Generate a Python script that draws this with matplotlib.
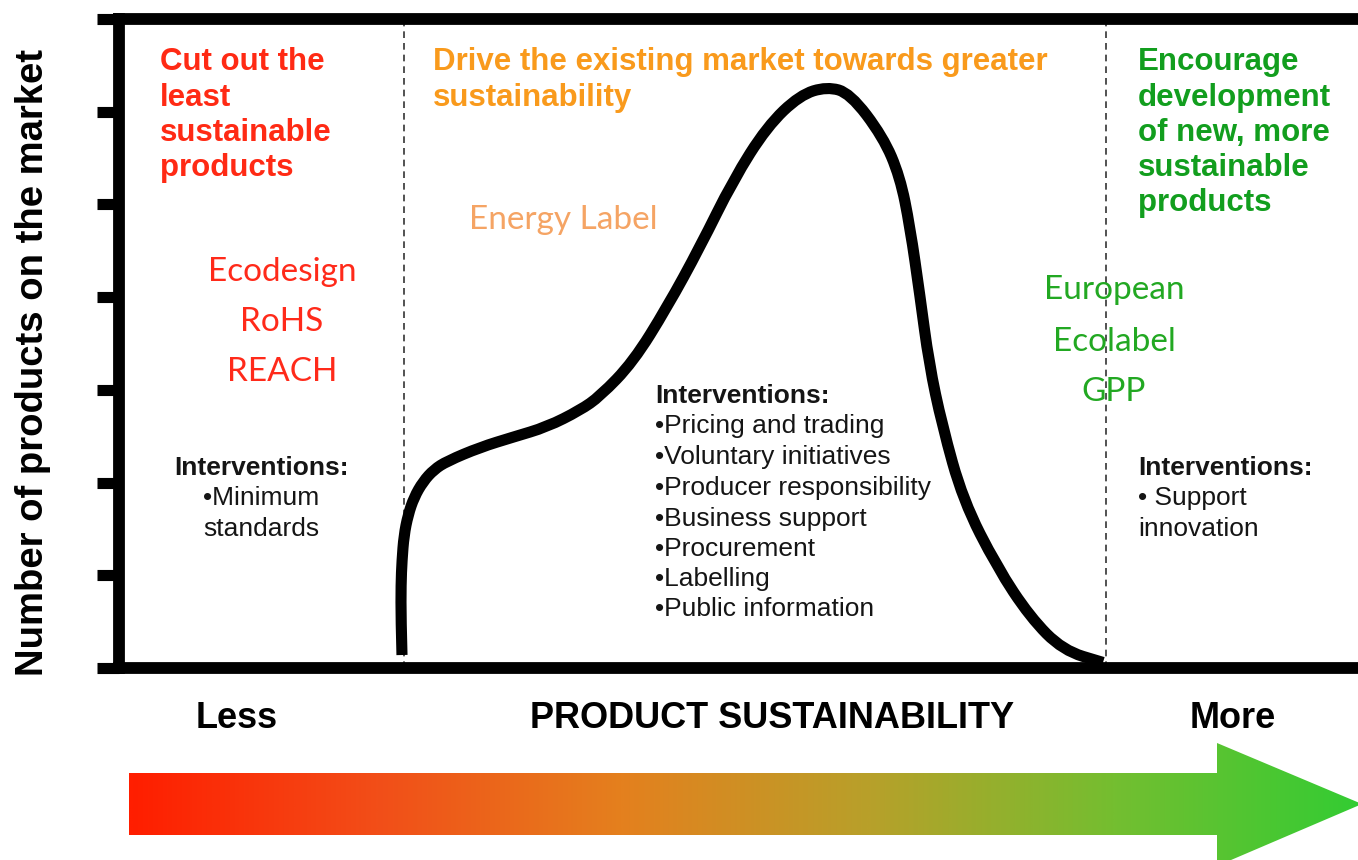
import numpy as np
import matplotlib
matplotlib.use('Agg')
import matplotlib.pyplot as plt
from matplotlib.colors import LinearSegmentedColormap
from matplotlib.patches import Polygon, PathPatch
from matplotlib.path import Path

# market curve: product sustainability (0-100) vs number of products (0-7)
sust = [22.84, 22.76, 22.76, 22.84, 23.00, 23.33, 23.81, 24.54, 25.42, 26.47,
        29.14, 31.80, 34.54, 37.21, 38.82, 41.49, 44.23, 46.89, 49.56, 52.30,
        54.96, 57.14, 59.00, 61.66, 63.03, 63.84, 64.65, 65.37, 66.43, 68.12,
        70.86, 73.53, 76.19, 79.42]
n_products = [0.14, 0.52, 0.90, 1.16, 1.43, 1.65, 1.84, 2.01, 2.14, 2.23,
              2.38, 2.49, 2.60, 2.78, 2.93, 3.30, 3.89, 4.54, 5.26, 5.84,
              6.18, 6.27, 6.20, 5.73, 5.30, 4.76, 4.01, 3.29, 2.62, 1.81,
              1.09, 0.55, 0.19, 0.06]
zone_edges = [23.0, 79.66]
y_ticks = [0, 1, 2, 3, 4, 5, 6, 7]

head_left = ['Cut out the', 'least', 'sustainable', 'products']
head_mid = ['Drive the existing market towards greater', 'sustainability']
head_right = ['Encourage', 'development', 'of new, more', 'sustainable', 'products']
tools_left = ['Ecodesign', 'RoHS', 'REACH']
tools_mid = ['Energy Label']
tools_right = ['European', 'Ecolabel', 'GPP']
interv_left = ['Interventions:', '\u2022Minimum', 'standards']
interv_mid = ['Interventions:', '\u2022Pricing and trading', '\u2022Voluntary initiatives',
              '\u2022Producer responsibility', '\u2022Business support',
              '\u2022Procurement', '\u2022Labelling', '\u2022Public information']
interv_right = ['Interventions:', '\u2022 Support', 'innovation']

W, H = 1358, 860
fig = plt.figure(figsize=(W / 100, H / 100), dpi=100)

# main axes (box)
ax = fig.add_axes([119 / W, (H - 668) / H, (W - 119) / W, (668 - 19) / H])
ax.set_xlim(0, 100)
ax.set_ylim(0, 7)

# smooth curve: quadratic bezier through midpoints of the read points
pts = np.column_stack([sust, n_products])
verts = [pts[0]]
codes = [Path.MOVETO]
for i in range(1, len(pts) - 1):
    verts += [pts[i], (pts[i] + pts[i + 1]) / 2]
    codes += [Path.CURVE3, Path.CURVE3]
verts.append(pts[-1])
codes.append(Path.LINETO)
ax.add_patch(PathPatch(Path(verts, codes), fill=False, edgecolor='black', lw=8,
                       capstyle='butt', joinstyle='round', zorder=3))

for xe in zone_edges:
    ax.axvline(xe, color='#333333', lw=1.2, ls=(0, (4, 3)), zorder=2)
for s in ['left', 'top', 'bottom']:
    ax.spines[s].set_linewidth(8.5)
    ax.spines[s].set_capstyle('projecting')
ax.spines['right'].set_visible(False)
ax.set_yticks(y_ticks)
ax.set_yticklabels([])
ax.set_xticks([])
ax.tick_params(axis='y', direction='out', length=16, width=8)

# overlay in pixel units for annotations and arrow
ov = fig.add_axes([0, 0, 1, 1], zorder=5)
ov.patch.set_visible(False)
ov.axis('off')

arial = 'Liberation Sans'
calibri = 'Lato'


def lines(items, x, ys, color, size, family, ha='left', bold_first=False, bold_all=False):
    for i, (t, y) in enumerate(zip(items, ys)):
        w = 'bold' if (bold_all or (bold_first and i == 0)) else 'normal'
        ov.text(x, y, t, color=color, fontsize=size, family=family, ha=ha, va='center', fontweight=w)


red = '#FF2A14'
orange = '#F99A1C'
green = '#129E1E'
lines(head_left, 160, [62, 98, 133, 168], red, 22.5, arial, bold_all=True)
lines(head_mid, 433, [62, 98], orange, 22.5, arial, bold_all=True)
lines(head_right, 1138, [62, 98, 133, 168, 203], green, 22.5, arial, bold_all=True)
lines(tools_left, 282, [272, 322, 372], '#FF2A1A', 24, calibri, ha='center')
lines(tools_mid, 563, [220], '#F5A464', 24, calibri, ha='center')
lines(tools_right, 1114, [290, 342, 392], '#22A822', 24, calibri, ha='center')
lines(interv_left, 261, [468, 498, 529], '#151515', 19, arial, ha='center', bold_first=True)
lines(interv_mid, 655, [396, 426, 457, 488, 519, 549, 579, 609], '#151515', 19, arial, bold_first=True)
lines(interv_right, 1138, [468, 498, 529], '#151515', 19, arial, bold_first=True)

ov.text(196, 718, 'Less', fontsize=26, family=arial, fontweight='bold', va='center')
ov.text(772, 718, 'PRODUCT SUSTAINABILITY', fontsize=26, family=arial, fontweight='bold', va='center', ha='center')
ov.text(1190, 718, 'More', fontsize=26, family=arial, fontweight='bold', va='center')
ov.text(33, 362, 'Number of products on the market', fontsize=27.5, family=arial, fontweight='bold',
        va='center', ha='center', rotation=90)

# gradient arrow
cmap = LinearSegmentedColormap.from_list('sust', ['#FF1E00', '#F24E18', '#E4801E', '#B8A02A', '#74BE30', '#33CC33'])
grad = np.linspace(0, 1, 512).reshape(1, -1)
im = ov.imshow(grad, cmap=cmap, aspect='auto', extent=[129, 1362, 868, 742], zorder=1)
arrow = Polygon([[129, 773], [1217, 773], [1217, 743], [1362, 804], [1217, 866],
                 [1217, 835], [129, 835]], closed=True, transform=ov.transData)
im.set_clip_path(arrow)
ov.set_xlim(0, W)
ov.set_ylim(H, 0)

fig.savefig('out.png', dpi=100)
